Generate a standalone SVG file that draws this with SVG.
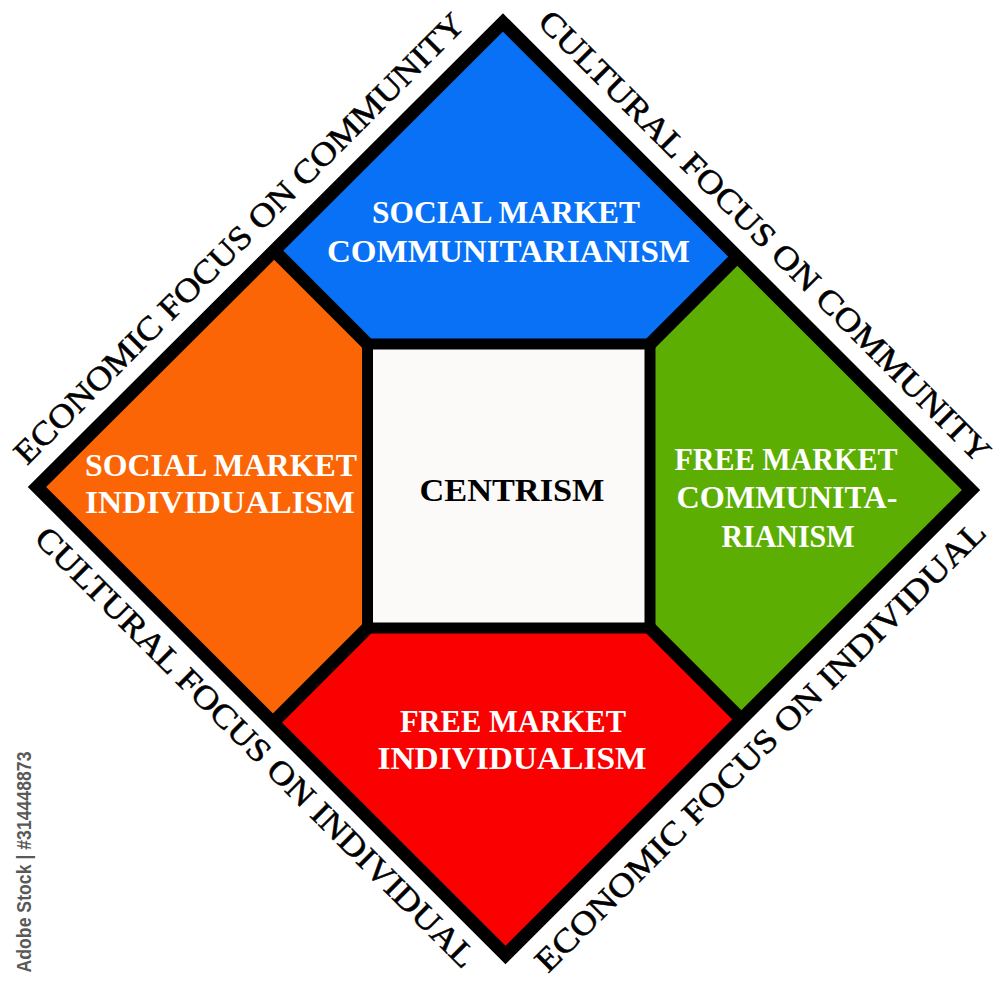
<svg xmlns="http://www.w3.org/2000/svg" width="1000" height="989" viewBox="0 0 1000 989">
<style>
.lbl{font-family:"Liberation Serif","Times New Roman",serif;font-weight:bold;font-size:32px;fill:#ffffff;text-anchor:middle}
.ctr{font-family:"Liberation Serif","Times New Roman",serif;font-weight:bold;font-size:32px;fill:#000000;text-anchor:middle}
.axis{font-family:"Liberation Serif","Times New Roman",serif;font-size:33px;fill:#000000;stroke:#000000;stroke-width:0.5;text-anchor:middle}
.div{stroke:#000;stroke-width:13;fill:none}
.wm{font-family:"Liberation Sans",Arial,sans-serif;font-weight:bold;font-size:21px;fill:#595959;text-anchor:middle}
</style>
<rect width="1000" height="989" fill="#ffffff"/>
<g id="region-social-market-communitarianism">
<polygon points="503,22.5 737.5,256.5 650,344 367.5,344 274.25,250.75" fill="#0871F6"/>
<text class="lbl" x="506" y="223" textLength="268" lengthAdjust="spacingAndGlyphs">SOCIAL MARKET</text>
<text class="lbl" x="508.5" y="262" textLength="363" lengthAdjust="spacingAndGlyphs">COMMUNITARIANISM</text>
</g>
<g id="region-social-market-individualism">
<polygon points="37,487 274.25,250.75 367.5,344 367.5,628 272.75,722.75" fill="#FB6505"/>
<text class="lbl" x="221" y="476" textLength="272" lengthAdjust="spacingAndGlyphs">SOCIAL MARKET</text>
<text class="lbl" x="220" y="513" textLength="270" lengthAdjust="spacingAndGlyphs">INDIVIDUALISM</text>
</g>
<g id="region-free-market-communitarianism">
<polygon points="971,490 737.5,256.5 650,344 650,628 741.5,719.5" fill="#5CAE02"/>
<text class="lbl" x="786" y="470" textLength="223" lengthAdjust="spacingAndGlyphs">FREE MARKET</text>
<text class="lbl" x="787" y="508" textLength="221" lengthAdjust="spacingAndGlyphs">COMMUNITA-</text>
<text class="lbl" x="788" y="547" textLength="133" lengthAdjust="spacingAndGlyphs">RIANISM</text>
</g>
<g id="region-free-market-individualism">
<polygon points="505.5,955 272.75,722.75 367.5,628 650,628 741.5,719.5" fill="#FB0000"/>
<text class="lbl" x="513" y="732" textLength="226" lengthAdjust="spacingAndGlyphs">FREE MARKET</text>
<text class="lbl" x="512" y="769" textLength="269" lengthAdjust="spacingAndGlyphs">INDIVIDUALISM</text>
</g>
<g id="region-centrism">
<rect x="367.5" y="344" width="282.5" height="284" fill="#FBFAF8" stroke="#000" stroke-width="11"/>
<text class="ctr" x="512" y="501" textLength="185" lengthAdjust="spacingAndGlyphs">CENTRISM</text>
</g>
<g id="connectors">
<line class="div" x1="367.5" y1="344" x2="274.25" y2="250.75"/>
<line class="div" x1="650" y1="344" x2="737.5" y2="256.5"/>
<line class="div" x1="367.5" y1="628" x2="272.75" y2="722.75"/>
<line class="div" x1="650" y1="628" x2="741.5" y2="719.5"/>
<polygon points="503,22.5 971,490 505.5,955 37,487" fill="none" stroke="#000" stroke-width="13" stroke-linejoin="miter"/>
</g>
<g id="axis-labels">
<text class="axis" transform="translate(247,246) rotate(-45)" textLength="622" lengthAdjust="spacingAndGlyphs">ECONOMIC FOCUS ON COMMUNITY</text>
<text class="axis" transform="translate(757,244) rotate(45)" textLength="624" lengthAdjust="spacingAndGlyphs">CULTURAL FOCUS ON COMMUNITY</text>
<text class="axis" transform="translate(248,755) rotate(45)" textLength="608" lengthAdjust="spacingAndGlyphs">CULTURAL FOCUS ON INDIVIDUAL</text>
<text class="axis" transform="translate(768,754) rotate(-45)" textLength="622" lengthAdjust="spacingAndGlyphs">ECONOMIC FOCUS ON INDIVIDUAL</text>
</g>
<g id="watermark">
<text class="wm" transform="translate(31,862) rotate(-90)" textLength="221" lengthAdjust="spacingAndGlyphs">Adobe Stock | #314448873</text>
</g>
</svg>
